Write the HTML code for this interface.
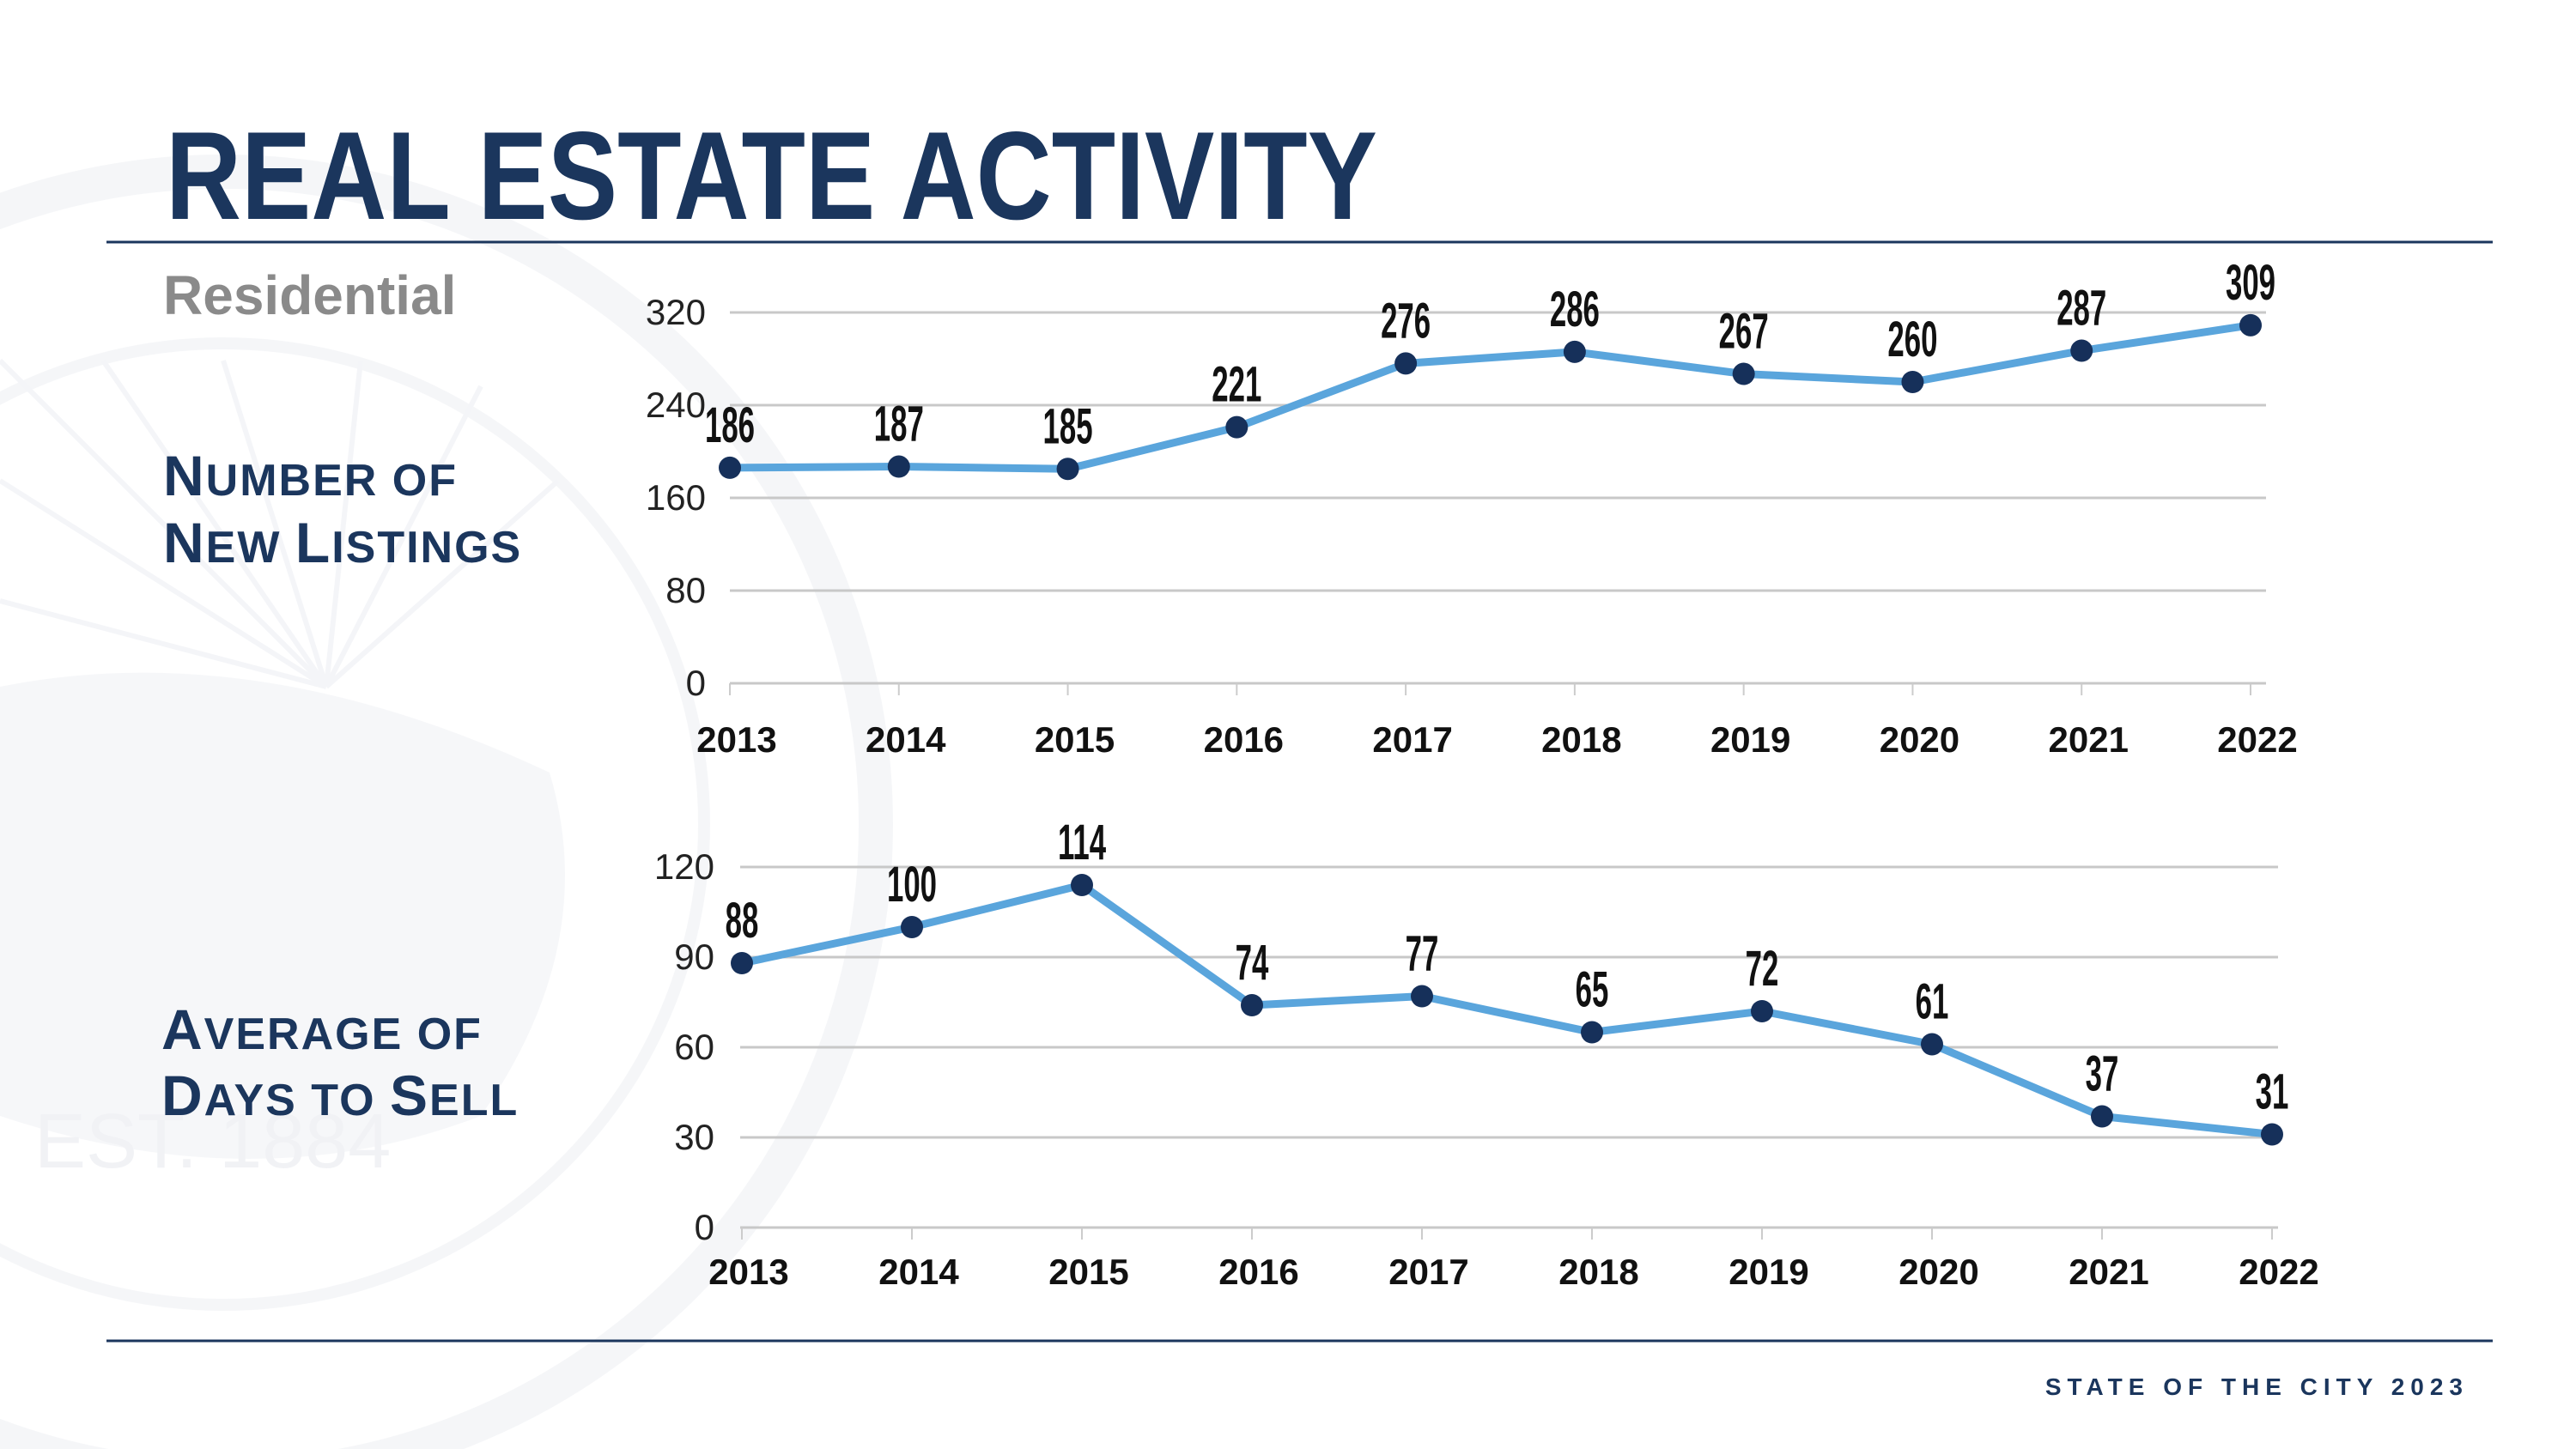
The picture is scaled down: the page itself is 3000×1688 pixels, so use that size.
<!DOCTYPE html>
<html><head><meta charset="utf-8"><style>
html,body{margin:0;padding:0;background:#fff;}
body{width:3000px;height:1688px;overflow:hidden;position:relative;font-family:"Liberation Sans",sans-serif;}
svg{position:absolute;left:0;top:0;}
</style></head><body>
<svg id="bg" width="3000" height="1688" opacity="0.55">
  <g fill="none" stroke="#eef0f4">
    <circle cx="260" cy="960" r="760" stroke-width="40"/>
    <circle cx="260" cy="960" r="560" stroke-width="14"/>
  </g>
  <g stroke="#eceef3" stroke-width="6">
    <line x1="380" y1="800" x2="0" y2="420"/><line x1="380" y1="800" x2="120" y2="420"/>
    <line x1="380" y1="800" x2="260" y2="420"/><line x1="380" y1="800" x2="420" y2="420"/>
    <line x1="380" y1="800" x2="560" y2="450"/><line x1="380" y1="800" x2="650" y2="560"/>
    <line x1="380" y1="800" x2="0" y2="560"/><line x1="380" y1="800" x2="0" y2="700"/>
  </g>
  <path d="M0 800 Q300 740 640 900 Q700 1100 560 1300 Q300 1400 0 1300 Z" fill="#f0f1f5"/>
  <text x="40" y="1360" font-size="90" fill="#e6e8ee" font-family="Liberation Sans">EST. 1884</text>
</svg>
<svg width="3000" height="1688">
  <text x="193" y="255" font-size="146" font-weight="bold" fill="#1b365d" transform="translate(193 0) scale(0.835 1) translate(-193 0)">REAL ESTATE ACTIVITY</text>
  <line x1="124" y1="282" x2="2903" y2="282" stroke="#1b365d" stroke-width="3"/>
  <line x1="124" y1="1562" x2="2903" y2="1562" stroke="#1b365d" stroke-width="3"/>
  <text x="190" y="366" font-size="64" font-weight="bold" fill="#8a8a8a">Residential</text>
  <g fill="#1b365d" font-weight="bold" letter-spacing="2">
    <text x="190" y="577" font-size="66">N<tspan font-size="52">UMBER OF</tspan></text>
    <text x="190" y="655" font-size="66">N<tspan font-size="52">EW </tspan>L<tspan font-size="52">ISTINGS</tspan></text>
  </g>
  <g fill="#1b365d" font-weight="bold" letter-spacing="2">
    <text x="188" y="1222" font-size="66">A<tspan font-size="52">VERAGE OF</tspan></text>
    <text x="188" y="1299" font-size="66">D<tspan font-size="52">AYS TO </tspan>S<tspan font-size="52">ELL</tspan></text>
  </g>
  <text x="2875" y="1625" text-anchor="end" font-size="28" font-weight="bold" fill="#1b365d" letter-spacing="7">STATE OF THE CITY 2023</text>
  <g id="c1"></g>
  <g id="c2"></g>
</svg>
<script>
const years = ["2013","2014","2015","2016","2017","2018","2019","2020","2021","2022"];
const listings = [186,187,185,221,276,286,267,260,287,309];
const listingTicks = [0,80,160,240,320];
const days = [88,100,114,74,77,65,72,61,37,31];
const dayTicks = [0,30,60,90,120];
const NS="http://www.w3.org/2000/svg";
function mk(parent,tag,attrs){const e=document.createElementNS(NS,tag);for(const k in attrs)e.setAttribute(k,attrs[k]);parent.appendChild(e);return e;}
function draw(g,vals,ticks,cfg){
  const maxV=ticks[ticks.length-1];
  const y=v=>cfg.y0+(cfg.yTop-cfg.y0)*v/maxV;
  const x=i=>cfg.x0+(cfg.x1-cfg.x0)*i/(vals.length-1);
  ticks.forEach(t=>{
    const l=mk(g,'line',{x1:cfg.gx0,x2:cfg.gx1,y1:y(t),y2:y(t),stroke:'#c8c8c8','stroke-width':3});
    
    
    const tx=mk(g,'text',{x:cfg.lx,y:y(t)+14,'text-anchor':'end','font-size':42,fill:'#222','font-family':'Liberation Sans'});
    tx.textContent=t;
    
    
  });
  years.forEach((yr,i)=>{
    const tk=mk(g,'line',{x1:x(i),x2:x(i),y1:cfg.y0,y2:cfg.y0+14,stroke:'#ccc','stroke-width':2});
    
    
    const t=mk(g,'text',{x:x(i)+8,y:cfg.y0+cfg.labOff,'text-anchor':'middle','font-size':42,'font-weight':'bold',fill:'#111'});
    t.textContent=yr;
    
    
  });
  const pts=vals.map((v,i)=>x(i)+','+y(v)).join(' ');
  const pl=mk(g,'polyline',{points:pts,fill:'none',stroke:'#5aa5dc','stroke-width':9,'stroke-linejoin':'round'});
  
  
  vals.forEach((v,i)=>{
    const c=mk(g,'circle',{cx:x(i),cy:y(v),r:13,fill:'#16305a'});
    
    
    const t=mk(g,'text',{x:0,y:0,'text-anchor':'middle','font-size':58,'font-weight':'bold',fill:'#111',transform:`translate(${x(i)} ${y(v)-30}) scale(0.6 1)`});
    t.textContent=v;
    
    
  });
}
draw(document.getElementById('c1'),listings,listingTicks,{x0:850,x1:2621,y0:796,yTop:364,gx0:850,gx1:2639,lx:822,labOff:80});
draw(document.getElementById('c2'),days,dayTicks,{x0:864,x1:2646,y0:1430,yTop:1010,gx0:862,gx1:2653,lx:832,labOff:66});
</script>
</body></html>
